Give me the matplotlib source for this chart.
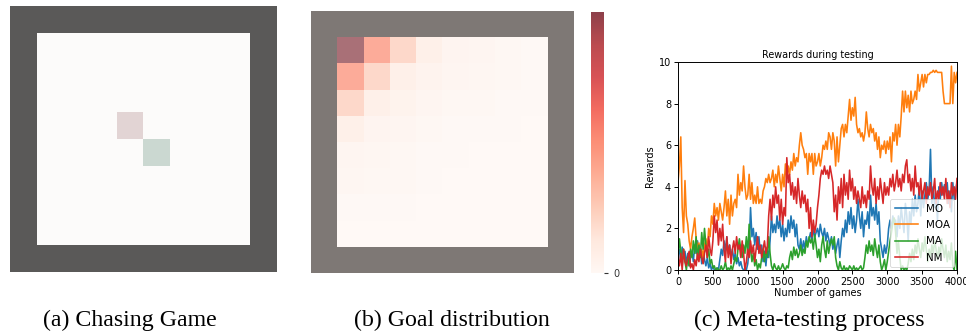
import numpy as np
import matplotlib
matplotlib.use("Agg")
import matplotlib.pyplot as plt
from matplotlib.colors import ListedColormap, Normalize
from matplotlib.cm import ScalarMappable

# ---------------- data ----------------
# (a) chasing game board: 0 = wall, 1 = floor, 2 = agent A, 3 = agent B
board_size = 10
agent_a = (4, 4)
agent_b = (5, 5)
board_colors = ["#5a5958", "#fcfbfa", "#e2d4d4", "#cbd8d1"]

# (b) goal distribution over the 8x8 inner floor
goal_dist = [
    [1.00, 0.50, 0.25, 0.10, 0.05, 0.04, 0.02, 0.01],
    [0.50, 0.25, 0.10, 0.06, 0.04, 0.03, 0.02, 0.01],
    [0.25, 0.10, 0.07, 0.04, 0.02, 0.02, 0.01, 0.01],
    [0.10, 0.05, 0.04, 0.02, 0.01, 0.01, 0.01, 0.00],
    [0.04, 0.03, 0.02, 0.01, 0.01, 0.00, 0.00, 0.00],
    [0.03, 0.02, 0.02, 0.01, 0.00, 0.00, 0.00, 0.00],
    [0.01, 0.01, 0.01, 0.00, 0.00, 0.00, 0.00, 0.00],
    [0.00, 0.00, 0.00, 0.00, 0.00, 0.00, 0.00, 0.00],
]
wall_color = "#7e7875"

# (c) rewards during testing
games = list(range(0, 4001, 20))
MO = [0.7, 1.0, 0.4, 1.1, 0.6, 0.9, 0.3, 0.8, 0.2, 0.6,
      0.9, 0.4, 1.2, 0.8, 1.4, 0.6, 1.0, 0.3, 0.9, 0.5,
      0.2, 0.6, 0.1, 0.3, 0.0, 0.2, 0.0, 0.0, 0.1, 0.0,
      0.5, 1.0, 0.7, 1.4, 0.9, 1.6, 0.8, 1.2, 0.6, 1.0,
      0.5, 0.8, 0.3, 0.6, 0.2, 0.4, 0.1, 0.0, 0.0, 0.0,
      0.3, 1.0, 3.0, 1.6, 2.0, 1.2, 1.8, 1.0, 1.6, 0.8,
      1.2, 0.4, 0.9, 0.2, 1.0, 0.6, 1.4, 2.6, 1.8, 2.2,
      1.8, 2.6, 2.0, 2.4, 1.6, 2.2, 1.4, 2.0, 1.6, 2.4,
      1.8, 2.6, 2.0, 2.4, 1.6, 2.2, 1.2, 1.0, 1.5, 0.9,
      1.4, 1.0, 1.6, 1.2, 1.5, 1.8, 1.4, 2.0, 1.6, 1.8,
      2.0, 1.6, 2.2, 1.8, 1.6, 2.0, 1.4, 1.8, 1.5, 1.2,
      1.6, 1.0, 1.4, 0.8, 1.2, 1.5, 0.6, 1.4, 2.0, 1.6,
      2.4, 1.8, 2.8, 2.2, 3.0, 2.0, 2.6, 1.8, 2.4, 3.4,
      2.6, 2.0, 2.8, 1.6, 2.4, 2.2, 2.8, 2.0, 3.6, 2.6,
      3.0, 2.4, 3.2, 2.2, 2.8, 1.4, 1.0, 0.6, 1.2, 0.8,
      1.2, 2.0, 2.4, 2.0, 2.6, 2.2, 2.4, 1.6, 2.6, 2.0,
      3.0, 2.4, 1.8, 3.2, 2.6, 1.4, 2.8, 2.2, 3.4, 2.6,
      3.6, 2.8, 3.2, 4.0, 2.6, 3.8, 3.0, 3.6, 4.2, 3.4,
      3.8, 5.8, 3.2, 4.0, 3.0, 3.6, 2.4, 4.0, 3.4, 4.2,
      3.6, 4.1, 3.8, 4.2, 3.2, 3.8, 2.8, 4.2, 3.4, 3.8,
      4.2]
MOA = [4.2, 5.0, 6.4, 3.0, 1.8, 4.3, 2.6, 2.2, 1.4, 1.0,
       1.6, 2.0, 2.5, 1.5, 1.0, 1.3, 0.8, 1.0, 0.6, 1.2,
       1.5, 1.0, 2.0, 1.6, 2.6, 2.2, 3.2, 2.6, 3.0, 2.4,
       3.2, 2.8, 2.4, 3.0, 3.8, 2.6, 3.4, 2.2, 3.6, 2.6,
       3.2, 3.4, 3.0, 4.6, 3.6, 4.2, 3.8, 5.0, 4.0, 3.4,
       3.6, 4.6, 3.4, 4.2, 3.2, 3.6, 3.2, 4.0, 3.2, 3.4,
       3.2, 3.8, 4.0, 4.4, 4.2, 4.6, 4.2, 4.4, 4.8, 4.0,
       4.6, 4.2, 5.0, 4.4, 3.8, 4.6, 4.0, 5.1, 4.4, 5.0,
       4.6, 5.2, 4.8, 5.6, 5.0, 5.4, 5.2, 6.0, 6.6, 6.0,
       5.8, 5.4, 5.6, 4.6, 5.6, 5.2, 5.6, 4.6, 5.6, 5.0,
       5.2, 5.6, 5.0, 5.4, 6.0, 5.8, 6.2, 5.8, 6.6, 6.4,
       5.8, 6.6, 6.2, 5.0, 6.4, 5.2, 6.0, 6.8, 7.0, 6.4,
       7.0, 6.6, 7.4, 8.2, 7.2, 7.8, 7.4, 8.3, 7.0, 6.6,
       6.8, 6.4, 6.6, 6.2, 6.6, 7.6, 6.8, 6.4, 7.0, 6.6,
       6.8, 6.2, 6.6, 5.8, 6.4, 5.4, 6.0, 5.8, 6.2, 5.6,
       6.2, 5.8, 6.4, 5.2, 6.6, 6.2, 7.0, 6.0, 7.0, 6.4,
       7.4, 8.6, 7.6, 8.6, 7.8, 8.4, 7.6, 8.6, 8.0, 8.2,
       8.6, 8.2, 9.4, 8.6, 9.0, 9.4, 8.8, 9.4, 9.0, 9.4,
       9.4, 9.5, 9.5, 9.6, 9.5, 9.6, 9.5, 9.5, 9.5, 9.5,
       8.6, 8.0, 8.0, 8.0, 8.0, 8.0, 9.8, 8.0, 9.5, 9.0,
       9.5]
MA = [0.6, 1.5, 0.9, 0.2, 1.0, 0.4, 0.0, 0.6, 0.2, 1.0,
      0.6, 1.4, 0.8, 1.6, 0.5, 1.2, 0.6, 1.8, 1.0, 2.0,
      1.2, 0.6, 1.0, 0.3, 0.5, 0.1, 0.2, 0.0, 0.1, 0.0,
      0.0, 0.2, 0.0, 0.1, 0.4, 0.0, 0.1, 0.0, 0.2, 0.0,
      0.3, 0.6, 0.4, 1.0, 1.5, 1.0, 0.6, 1.2, 0.8, 1.6,
      0.8, 2.2, 1.0, 0.4, 0.8, 0.2, 0.5, 0.0, 0.3, 0.1,
      0.6, 1.0, 0.4, 1.1, 0.6, 1.6, 0.8, 0.2, 0.0, 0.3,
      0.1, 0.0, 0.2, 0.0, 0.1, 0.3, 0.1, 0.0, 0.2, 0.1,
      0.6, 0.9, 0.5, 1.1, 0.7, 1.0, 0.6, 0.8, 1.2, 0.7,
      1.0, 0.8, 1.4, 1.1, 1.6, 1.3, 1.5, 1.0, 1.7, 1.2,
      0.6, 1.0, 0.4, 1.2, 1.6, 1.0, 0.6, 1.4, 0.8, 1.2,
      1.5, 1.2, 1.6, 0.6, 0.2, 0.0, 0.4, 0.1, 0.0, 0.2,
      0.0, 0.1, 0.0, 0.2, 0.1, 0.0, 0.2, 0.0, 0.1, 0.0,
      0.1, 0.2, 0.0, 0.1, 0.6, 1.2, 0.8, 1.4, 0.9, 1.2,
      0.7, 1.5, 1.0, 0.6, 1.2, 0.4, 0.0, 0.2, 0.5, 0.0,
      0.4, 0.9, 1.4, 1.8, 2.3, 2.5, 1.8, 0.8, 1.4, 0.6,
      0.0, 0.2, 0.0, 0.1, 0.0, 0.3, 0.8, 0.4, 1.0, 0.5,
      1.2, 0.8, 1.5, 1.0, 0.6, 1.3, 0.9, 1.6, 1.0, 0.4,
      1.0, 0.6, 1.2, 0.8, 1.4, 1.0, 0.5, 1.1, 0.7, 1.5,
      1.0, 0.6, 1.2, 0.4, 0.9, 0.5, 1.3, 0.2, 0.0, 0.9,
      0.0]
NM = [0.6, 0.2, 0.8, 0.0, 1.0, 0.4, 0.2, 0.6, 0.9, 0.1,
      0.3, 0.0, 0.5, 0.2, 0.8, 0.4, 1.0, 0.6, 0.3, 0.8,
      1.2, 0.6, 1.6, 1.0, 0.7, 1.4, 2.6, 1.8, 2.4, 1.2,
      2.0, 1.4, 2.2, 1.0, 0.4, 1.6, 0.6, 1.2, 0.3, 1.0,
      1.4, 0.8, 1.6, 1.0, 1.2, 0.6, 1.4, 0.8, 0.0, 0.4,
      1.0, 0.6, 1.4, 0.8, 1.2, 0.4, 1.0, 1.6, 0.8, 1.2,
      0.6, 1.0, 1.4, 0.8, 1.1, 2.6, 3.4, 2.4, 3.6, 3.0,
      4.0, 3.2, 3.6, 2.4, 3.4, 2.2, 3.0, 2.6, 5.4, 4.2,
      4.6, 3.6, 4.2, 3.4, 4.0, 3.2, 4.4, 3.6, 3.0, 3.8,
      3.2, 3.6, 2.8, 3.4, 2.0, 3.0, 1.6, 2.4, 1.8, 2.2,
      3.0, 3.6, 4.4, 4.8, 4.6, 5.0, 4.6, 4.8, 4.4, 5.0,
      4.6, 4.2, 2.8, 3.6, 2.4, 4.0, 3.2, 4.4, 3.0, 4.6,
      3.6, 4.2, 3.4, 4.8, 3.8, 4.4, 3.4, 4.0, 3.2, 3.8,
      3.4, 3.0, 4.0, 3.2, 3.6, 3.0, 3.8, 3.4, 5.0, 4.0,
      3.6, 4.4, 3.2, 4.0, 3.4, 4.4, 3.8, 3.2, 4.2, 3.6,
      4.0, 3.6, 4.4, 4.0, 4.6, 3.8, 4.2, 4.8, 4.0, 4.4,
      3.8, 4.6, 4.2, 5.0, 5.3, 4.2, 4.6, 3.8, 4.4, 3.6,
      5.0, 4.0, 4.2, 3.6, 4.4, 3.4, 3.8, 4.2, 3.2, 4.0,
      3.6, 4.2, 3.4, 3.8, 4.4, 3.2, 3.8, 3.4, 4.2, 3.6,
      4.0, 3.4, 4.4, 3.2, 3.8, 3.0, 4.2, 3.6, 4.0, 3.4,
      4.4]
series_names = ["MO", "MOA", "MA", "NM"]
series_colors = ["#1f77b4", "#ff7f0e", "#2ca02c", "#d62728"]

captions = ["(a) Chasing Game", "(b) Goal distribution", "(c) Meta-testing process"]

# ---------------- figure ----------------
W, H = 966, 335
fig = plt.figure(figsize=(W / 100, H / 100), dpi=100)

def px_axes(left, top, width, height):
    return fig.add_axes([left / W, 1 - (top + height) / H, width / W, height / H])

# (a)
board = np.ones((board_size, board_size), dtype=int)
board[0, :] = 0
board[-1, :] = 0
board[:, 0] = 0
board[:, -1] = 0
board[agent_a] = 2
board[agent_b] = 3
ax_a = px_axes(10, 6, 267, 266)
ax_a.imshow(board, cmap=ListedColormap(board_colors), vmin=-0.5, vmax=3.5,
            interpolation="nearest", aspect="auto")
ax_a.set_axis_off()

# (b)
alpha = 0.56
reds = plt.get_cmap("Reds")(np.linspace(0, 1, 256))[:, :3]
blended = reds * alpha + (1 - alpha)
heat_cmap = ListedColormap(blended)
heat_cmap.set_bad(wall_color)
inner = np.array(goal_dist)
full = np.full((board_size, board_size), np.nan)
full[1:-1, 1:-1] = inner
ax_b = px_axes(311, 11, 263, 262)
ax_b.imshow(np.ma.masked_invalid(full), cmap=heat_cmap, vmin=0, vmax=inner.max(),
            interpolation="nearest", aspect="auto")
ax_b.set_axis_off()

cb_alpha = 0.75
cb_cmap = ListedColormap(reds * cb_alpha + (1 - cb_alpha))
cax = px_axes(591, 12, 13, 261)
cb = fig.colorbar(ScalarMappable(norm=Normalize(0, inner.max()), cmap=cb_cmap), cax=cax)
cb.set_ticks([0])
cb.ax.tick_params(labelsize=7, length=3, width=0.8, colors="#333333")
cb.outline.set_visible(False)

# (c)
ax_c = px_axes(678, 62, 279, 208)
for name, vals, col in zip(series_names, [MO, MOA, MA, NM], series_colors):
    ax_c.plot(games, vals, color=col, lw=1.15, label=name)
ax_c.set_xlim(0, 4000)
ax_c.set_ylim(0, 10)
ax_c.set_xticks(range(0, 4001, 500))
ax_c.set_yticks(range(0, 11, 2))
ax_c.tick_params(labelsize=7.0, length=3, width=0.7, pad=2)
for s in ax_c.spines.values():
    s.set_linewidth(0.7)
ax_c.set_title("Rewards during testing", fontsize=6.9, pad=3)
ax_c.set_xlabel("Number of games", fontsize=7.0, labelpad=1)
ax_c.set_ylabel("Rewards", fontsize=7.0, labelpad=3)
leg = ax_c.legend(loc="lower right", fontsize=7.4, handlelength=2.2,
                  borderpad=0.45, labelspacing=0.62, borderaxespad=0.25)
leg.get_frame().set_linewidth(0.6)

# captions
cap_x = [130, 452, 809]
for cx, txt in zip(cap_x, captions):
    fig.text(cx / W, 1 - 320 / H, txt, ha="center", va="center",
             family="Liberation Serif", fontsize=17.2)

fig.savefig("out.png", dpi=100)
